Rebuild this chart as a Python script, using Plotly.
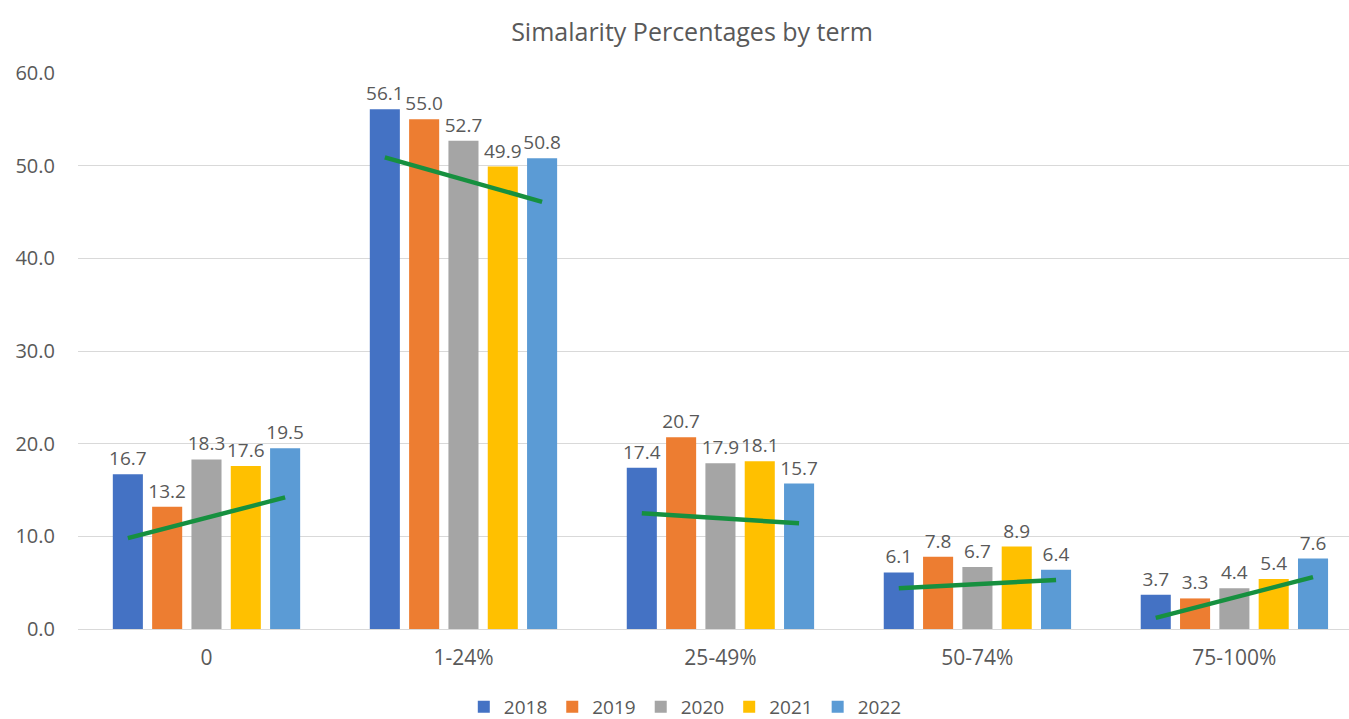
import plotly.graph_objects as go

categories = ["0", "1-24%", "25-49%", "50-74%", "75-100%"]
years = ["2018", "2019", "2020", "2021", "2022"]
values = {
    "2018": [16.7, 56.1, 17.4, 6.1, 3.7],
    "2019": [13.2, 55.0, 20.7, 7.8, 3.3],
    "2020": [18.3, 52.7, 17.9, 6.7, 4.4],
    "2021": [17.6, 49.9, 18.1, 8.9, 5.4],
    "2022": [19.5, 50.8, 15.7, 6.4, 7.6],
}
trend_start = [9.8, 50.9, 12.5, 4.4, 1.2]
trend_end = [14.2, 46.1, 11.4, 5.3, 5.6]

colors = ["#4472C4", "#ED7D31", "#A5A5A5", "#FFC000", "#5B9BD5"]
trend_color = "#16903f"
text_color = "#595959"
FONT = "Open Sans"

slot = 0.153
bar_w = 0.117
n = len(years)

fig = go.Figure()
for j, yr in enumerate(years):
    off = (j - (n - 1) / 2) * slot
    fig.add_trace(go.Bar(
        x=[i + off for i in range(len(categories))],
        y=values[yr],
        width=bar_w,
        name=yr,
        marker=dict(color=colors[j], line=dict(width=0)),
        texttemplate="%{y:.1f}",
        textposition="outside",
        constraintext="none",
        cliponaxis=False,
        textfont=dict(family=FONT, size=19, color=text_color),
        hoverinfo="x+y+name",
    ))

for i in range(len(categories)):
    x0 = i - (n - 1) / 2 * slot
    x1 = i + (n - 1) / 2 * slot
    fig.add_trace(go.Scatter(
        x=[x0, x1], y=[trend_start[i], trend_end[i]],
        mode="lines", line=dict(color=trend_color, width=4.5),
        showlegend=False, hoverinfo="skip",
    ))

fig.update_layout(
    width=1349, height=719,
    margin=dict(l=78, r=0, t=73, b=90),
    paper_bgcolor="white", plot_bgcolor="white",
    barmode="overlay",
    font=dict(family=FONT, color=text_color),
    title=dict(text="Simalarity Percentages by term", x=0.513, xanchor="center",
               xref="container", y=0.955, yanchor="middle", yref="container",
               font=dict(family=FONT, size=25, color=text_color)),
    legend=dict(orientation="h", xref="container", x=0.508, xanchor="center",
                yref="container", y=0.017, yanchor="middle",
                font=dict(family=FONT, size=19, color=text_color),
                itemwidth=30, traceorder="normal"),
    showlegend=True,
)
fig.update_xaxes(
    range=[-0.5, 4.446], tickmode="array", tickvals=list(range(len(categories))),
    ticktext=categories, showgrid=False, zeroline=False,
    showline=True, linecolor="#d9d9d9", linewidth=1,
    tickfont=dict(family=FONT, size=21, color=text_color),
    ticks="", ticklabelstandoff=10,
)
fig.update_yaxes(
    range=[0, 60], dtick=10, tickformat=".1f",
    showgrid=True, gridcolor="#d9d9d9", gridwidth=1, zeroline=False,
    tickfont=dict(family=FONT, size=20, color=text_color),
    ticks="", ticklabelstandoff=22,
)

fig.write_html("out.html")
